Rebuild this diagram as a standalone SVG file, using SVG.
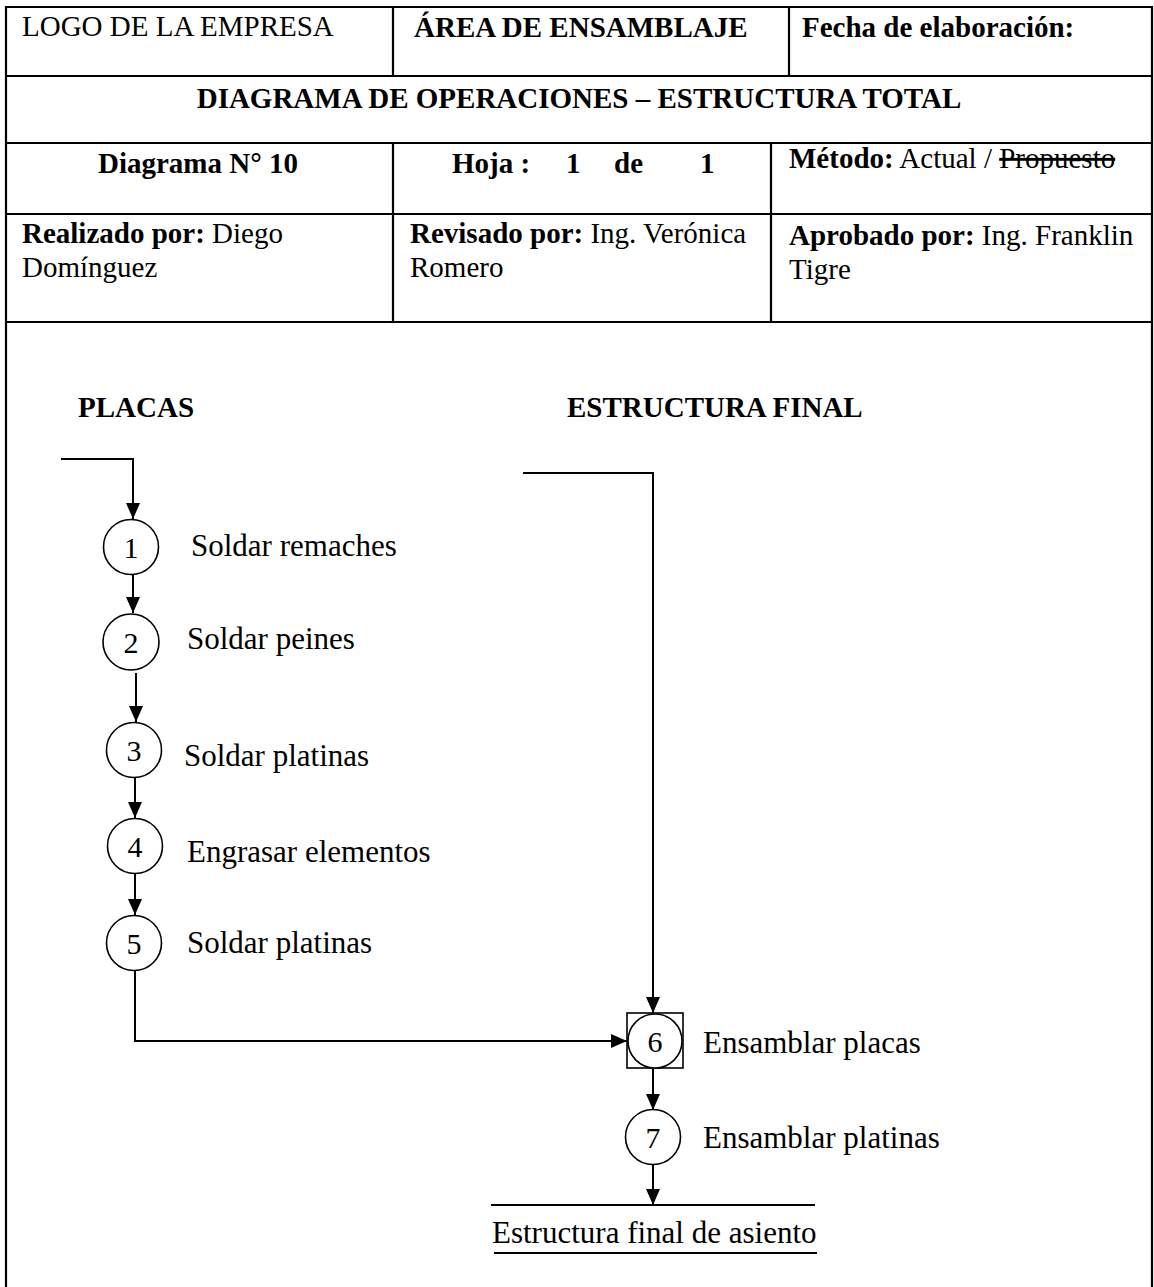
<svg xmlns="http://www.w3.org/2000/svg" width="1154" height="1287" viewBox="0 0 1154 1287">
  <style>
    .grid { fill: none; stroke: #000; stroke-width: 2.2; }
    .t { font-family: "Liberation Serif", "Times New Roman", serif; font-size: 29px; fill: #000; }
    .b { font-weight: bold; }
    .lbl { font-family: "Liberation Serif", "Times New Roman", serif; font-size: 31px; fill: #000; }
    .num { font-family: "Liberation Serif", "Times New Roman", serif; font-size: 30px; fill: #000; text-anchor: middle; }
    .op { fill: #fff; stroke: #000; stroke-width: 1.6; }
    .flow { fill: none; stroke: #000; stroke-width: 2; }
  </style>
  <defs>
    <marker id="arr" viewBox="0 0 16 14" refX="16" refY="7" markerWidth="16" markerHeight="14" markerUnits="userSpaceOnUse" orient="auto">
      <path d="M0,0 L16,7 L0,14 Z" fill="#000"/>
    </marker>
  </defs>
  <rect width="1154" height="1287" fill="#fff"/>

  <!-- header table -->
  <g id="header">
    <path class="grid" d="M6,1300 V7 H1152 V1300"/>
    <path class="grid" d="M6,76 H1152 M6,143 H1152 M6,214 H1152 M6,322 H1152"/>
    <path class="grid" d="M393,7 V76 M789,7 V76 M393,143 V322 M771,143 V322"/>
    <text class="t" x="22" y="36">LOGO DE LA EMPRESA</text>
    <text class="t b" x="414" y="37">ÁREA DE ENSAMBLAJE</text>
    <text class="t b" x="802" y="37">Fecha de elaboración:</text>
    <text class="t b" x="579" y="108" text-anchor="middle">DIAGRAMA DE OPERACIONES – ESTRUCTURA TOTAL</text>
    <text class="t b" x="198" y="173" text-anchor="middle">Diagrama N° 10</text>
    <text class="t b" y="173"><tspan x="452">Hoja :</tspan><tspan x="566">1</tspan><tspan x="614">de</tspan><tspan x="700">1</tspan></text>
    <text class="t" x="789" y="168"><tspan class="b">Método:</tspan> Actual / <tspan text-decoration="line-through">Propuesto</tspan></text>
    <text class="t" x="22" y="243"><tspan class="b">Realizado por:</tspan> Diego</text>
    <text class="t" x="22" y="277">Domínguez</text>
    <text class="t" x="410" y="243"><tspan class="b">Revisado por:</tspan> Ing. Verónica</text>
    <text class="t" x="410" y="277">Romero</text>
    <text class="t" x="789" y="245"><tspan class="b">Aprobado por:</tspan> Ing. Franklin</text>
    <text class="t" x="789" y="279">Tigre</text>
  </g>

  <!-- line headings -->
  <g id="heading-placas"><text class="t b" x="78" y="417">PLACAS</text></g>
  <g id="heading-estructura"><text class="t b" x="567" y="417">ESTRUCTURA FINAL</text></g>

  <!-- connectors -->
  <g id="connectors">
    <path class="flow" d="M61,459 H133 V519" marker-end="url(#arr)"/>
    <path class="flow" d="M133,575 V613" marker-end="url(#arr)"/>
    <path class="flow" d="M136,673 V722" marker-end="url(#arr)"/>
    <path class="flow" d="M135,778 V818" marker-end="url(#arr)"/>
    <path class="flow" d="M135,874 V915" marker-end="url(#arr)"/>
    <path class="flow" d="M135,971 V1041 H627" marker-end="url(#arr)"/>
    <path class="flow" d="M523,473 H653 V1013" marker-end="url(#arr)"/>
    <path class="flow" d="M653,1069 V1110" marker-end="url(#arr)"/>
    <path class="flow" d="M653,1165 V1205" marker-end="url(#arr)"/>
  </g>

  <!-- operations -->
  <g id="op1"><circle class="op" cx="131" cy="547" r="27.5"/><text class="num" x="131" y="558">1</text><text class="lbl" x="191" y="556">Soldar remaches</text></g>
  <g id="op2"><circle class="op" cx="131" cy="642" r="28"/><text class="num" x="131" y="653">2</text><text class="lbl" x="187" y="649">Soldar peines</text></g>
  <g id="op3"><circle class="op" cx="134" cy="750" r="27.5"/><text class="num" x="134" y="761">3</text><text class="lbl" x="184" y="766">Soldar platinas</text></g>
  <g id="op4"><circle class="op" cx="135" cy="846" r="27.5"/><text class="num" x="135" y="857">4</text><text class="lbl" x="187" y="862">Engrasar elementos</text></g>
  <g id="op5"><circle class="op" cx="134" cy="943" r="27.5"/><text class="num" x="134" y="954">5</text><text class="lbl" x="187" y="953">Soldar platinas</text></g>
  <g id="op6"><rect class="op" x="627" y="1013" width="56" height="55"/><circle class="op" cx="655" cy="1041" r="27"/><text class="num" x="655" y="1052">6</text><text class="lbl" x="703" y="1053">Ensamblar placas</text></g>
  <g id="op7"><circle class="op" cx="653" cy="1137" r="27.5"/><text class="num" x="653" y="1148">7</text><text class="lbl" x="703" y="1148">Ensamblar platinas</text></g>

  <!-- product -->
  <g id="product">
    <path class="flow" d="M491,1205 H815"/>
    <text class="lbl" x="492" y="1243">Estructura final de asiento</text>
    <path class="flow" d="M494,1253 H817"/>
  </g>
</svg>
